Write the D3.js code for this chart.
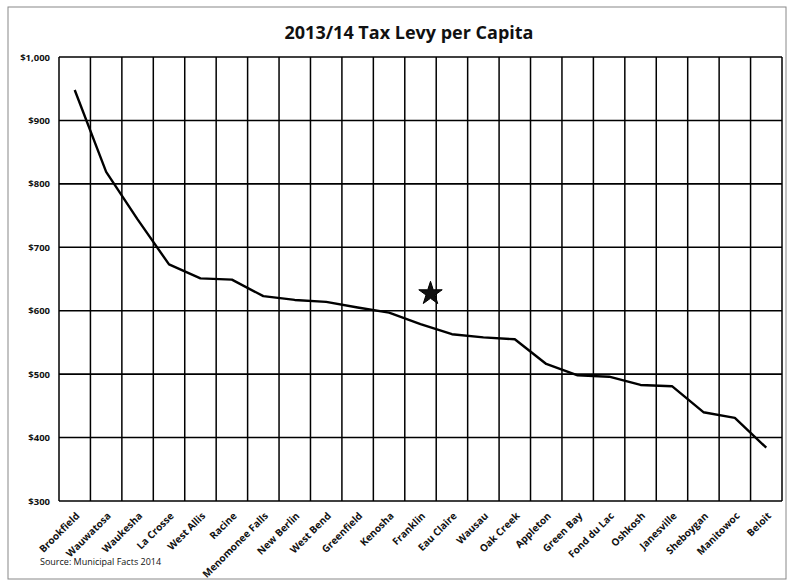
<!DOCTYPE html>
<html>
<head>
<meta charset="utf-8">
<script src="https://cdn.jsdelivr.net/npm/d3@7"></script>
<style>
  body { margin: 0; background: #fff; }
  text { font-family: "Open Sans", "DejaVu Sans", sans-serif; fill: #111; }
</style>
</head>
<body>
<svg id="chart" width="791" height="585"></svg>
<script>
const cities = ["Brookfield", "Wauwatosa", "Waukesha", "La Crosse", "West Allis", "Racine",
    "Menomonee Falls", "New Berlin", "West Bend", "Greenfield", "Kenosha", "Franklin",
    "Eau Claire", "Wausau", "Oak Creek", "Appleton", "Green Bay", "Fond du Lac",
    "Oshkosh", "Janesville", "Sheboygan", "Manitowoc", "Beloit"];
const levy = [948, 819, 744, 673, 651, 649, 623, 617, 614, 605, 597, 579,
    563, 558, 555, 516, 498, 496, 483, 481, 440, 431, 384];
const yTicks = [300, 400, 500, 600, 700, 800, 900, 1000];
const starMark = {city: "Franklin", value: 627};

const svg = d3.select('#chart');
const margin = {top: 57, right: 9, bottom: 84, left: 59};
const width = 791 - margin.left - margin.right,
      height = 585 - margin.top - margin.bottom;

// outer frame
svg.append('rect')
    .attr('x', 8).attr('y', 7)
    .attr('width', 778).attr('height', 572)
    .attr('fill', 'none')
    .attr('stroke', '#888')
    .attr('stroke-width', 1);

svg.append('text')
    .attr('x', 409).attr('y', 39)
    .attr('text-anchor', 'middle')
    .style('font-size', '18px')
    .style('font-weight', 'bold')
    .text('2013/14 Tax Levy per Capita');

const g = svg.append('g')
    .attr('transform', `translate(${margin.left},${margin.top})`);

let x = d3.scaleBand()
            .domain(cities)
            .range([0, width]);

let y = d3.scaleLinear()
            .domain([300, 1000])
            .range([height, 0]);

// horizontal gridlines
g.selectAll('.hgrid')
    .data(yTicks)
  .enter()
  .append('line')
    .classed('hgrid', true)
    .attr('x1', 0).attr('x2', width)
    .attr('y1', d => y(d)).attr('y2', d => y(d))
    .style('stroke', '#000')
    .style('stroke-width', 1.6);

// vertical gridlines at category boundaries
g.selectAll('.vgrid')
    .data(cities.concat(['__end']))
  .enter()
  .append('line')
    .classed('vgrid', true)
    .attr('x1', (d, i) => i < cities.length ? x(d) : width)
    .attr('x2', (d, i) => i < cities.length ? x(d) : width)
    .attr('y1', 0).attr('y2', height)
    .style('stroke', '#000')
    .style('stroke-width', 1.5);

// y axis labels
let yAxis = d3.axisLeft(y)
                .tickValues(yTicks)
                .tickSize(0)
                .tickPadding(9)
                .tickFormat(d3.format('$,'));

g.append('g')
    .call(yAxis)
    .call(a => a.select('.domain').remove())
    .selectAll('text')
        .style('font-size', '9.5px')
        .style('font-weight', 'bold');

// x axis labels, rotated
let xAxis = d3.axisBottom(x).tickSize(0).tickPadding(0);

g.append('g')
    .attr('transform', `translate(0,${height})`)
    .call(xAxis)
    .call(a => a.select('.domain').remove())
    .selectAll('text')
        .style('font-size', '10px')
        .style('font-weight', 'bold')
        .attr('text-anchor', 'end')
        .attr('y', 0)
        .attr('dy', '0.35em')
        .attr('transform', 'translate(3,13) rotate(-45)');

// the levy line
let lineGen = d3.line()
                .x((d, i) => x(cities[i]) + x.bandwidth() / 2)
                .y(d => y(d));

g.append('path')
    .datum(levy)
    .attr('d', lineGen)
    .attr('fill', 'none')
    .style('stroke', '#000')
    .style('stroke-width', 2.4)
    .style('stroke-linejoin', 'round');

// star marker
g.append('path')
    .attr('d', d3.symbol().type(d3.symbolStar).size(170))
    .attr('transform', `translate(${x(starMark.city) + x.bandwidth() / 2 + 10},${y(starMark.value)})`)
    .attr('fill', '#111')
    .attr('stroke', '#000')
    .attr('stroke-width', 1);

svg.append('text')
    .attr('x', 40).attr('y', 565)
    .style('font-size', '9px')
    .text('Source: Municipal Facts 2014');
</script>
</body>
</html>
